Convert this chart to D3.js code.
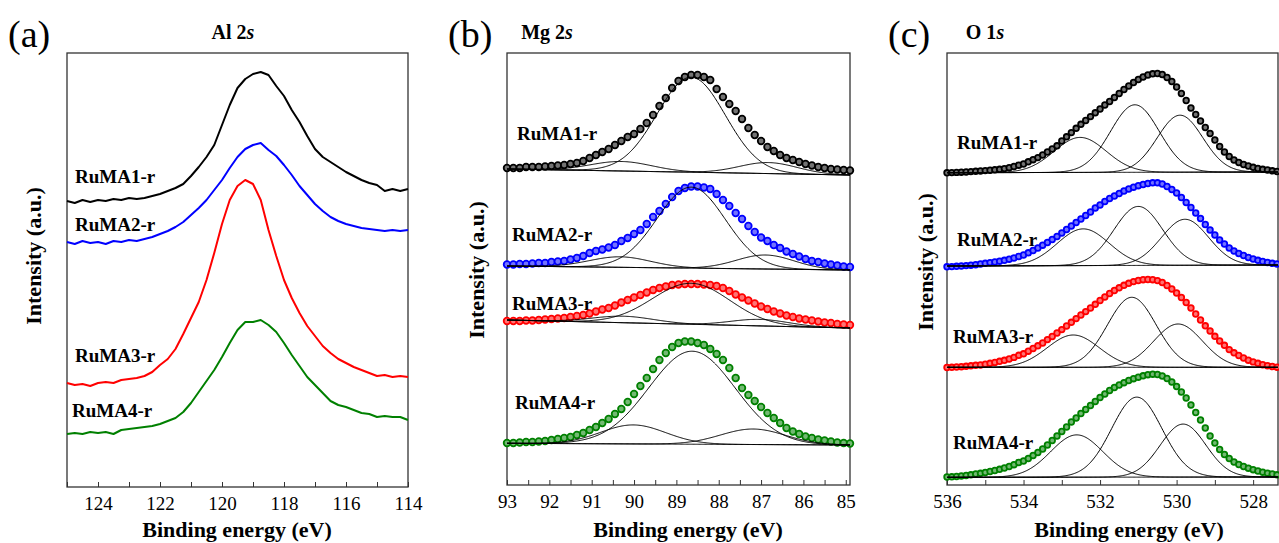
<!DOCTYPE html>
<html lang="en">
<head>
<meta charset="UTF-8">
<title>XPS Al 2s / Mg 2s / O 1s</title>
<script src="https://d3js.org/d3.v7.min.js"></script>
<style>
    body { margin: 0; background: #fff; }
    .frame { fill: none; stroke: #333; stroke-width: 1.3px; }
    .tick line { stroke: #333; stroke-width: 1px; }
    .comp { fill: none; stroke: #000; stroke-width: 1px; }
</style>
</head>
<body>
<svg id="canvas" width="1279" height="543"></svg>
<script>
// samples and their colours
const samples = ['RuMA1-r', 'RuMA2-r', 'RuMA3-r', 'RuMA4-r'];
const colors = ['#000000', '#0000ff', '#ff0000', '#008000'];

// (a) Al 2s, raw spectra, 125 -> 114 eV every 0.25 eV (intensity in a.u., offsets included)
const alEnergy = d3.range(125, 113.99, -0.25);
const alRuMA1 = [286,284,287,285,287,286,288,287,289,288,289,291,293,296,299,303,311,320,330,342,362,382,399,408,413,415,412,401,391,377,365,351,338,330,325,320,315,311,307,304,302,296,298,296,298];
const alRuMA2 = [245,243,246,244,245,243,246,245,247,246,248,250,253,256,260,265,272,279,287,297,307,319,330,338,342,344,337,331,322,312,301,292,283,276,270,266,263,261,259,258,257,256,257,256,257];
const alRuMA3 = [104,102,103,101,104,105,104,107,108,109,111,115,122,128,138,153,169,185,207,234,263,287,301,307,303,287,257,231,207,189,174,161,151,141,134,128,124,120,117,114,111,112,110,111,110];
const alRuMA4 = [53,54,53,55,54,55,53,57,58,59,60,61,63,66,69,75,84,95,106,117,130,144,157,165,165,167,162,155,144,132,121,110,102,94,86,82,80,77,74,73,70,71,70,70,67];

// (b) Mg 2s, measured points 93 -> 84.9 eV every 0.15 eV
const mgEnergy = d3.range(93, 84.89, -0.15);
const mgRuMA1 = [317,317,317,318,318,318,318.5,319,319.5,320,321,322,324,327,330,333,336,340,344,348,351,356,362,370,379,387,397,404,408,410,410,408,405,396,388,381,374,366,357,350,344,338,334,330,327,325,323,321,319.5,318,317,316,315.5,315,314.5];
const mgRuMA2 = [220.5,220.5,221,221,221.5,222,222,223,223.5,224,225.5,227,229,232,234,235.5,237.5,240,244,247,251,255,261,268,274,281,288,294,297,298.5,298.5,297.5,296,291,285,279,272,266,259,253,247.5,244,240,237,233.5,231,228.5,226,224,223,221.5,220.5,219.5,218.5,218];
const mgRuMA3 = [164,164,164,164.5,164.5,165,165.5,166,166.5,167,168,169,170,171.5,173.5,175.5,177,179.5,182.5,185,187.5,190,192.5,195,197,198.5,200,200.5,201,201,201,200.5,200,199,197,194,190.5,187.5,184.5,181.5,178.5,176,173.5,171.5,169.5,168,166.5,165.5,164.5,163.5,162.5,162,161,160.5,160];
const mgRuMA4 = [42,42,42.5,43,43,43.5,44,45,46,47,48,50,52,55,58,62,66,71,76,83,91,99,107,116,125,132,138,142,143.5,143.5,142,140,136,131,125,117,107,97,90,84,78,72,67,62,57,53.5,51,48.5,47,45.5,44.5,43.5,42.5,42,41.5];
// fitted baseline [left, right] and components [centre eV, fwhm eV, height]
const mgBase = [[316, 310], [219, 215], [165, 157], [41.7, 40]];
const mgPeaks = [
    [[90.3, 1.7, 9.5], [88.65, 1.9, 95], [86.83, 1.6, 11]],
    [[90.33, 1.7, 10.5], [88.65, 1.9, 81], [86.9, 1.6, 14]],
    [[90.26, 1.7, 6.5], [88.65, 2.15, 41], [87.03, 1.6, 6.5]],
    [[90.02, 1.8, 19], [88.63, 2.4, 93], [87.19, 1.8, 15.5]]
];

// (c) O 1s, measured points 536 -> 527.375 eV every 0.125 eV
const oEnergy = d3.range(536, 527.37, -0.125);
const oRuMA1 = [312.2,312.4,312.6,312.8,313,313.4,313.7,314,314.4,314.8,315.2,315.7,316.4,317.3,318.5,319.8,321,323.2,325.3,327.4,330,333,336,339.2,344,348.2,352.4,356.7,360.7,364.5,368.4,372.2,376,380,383.5,387.5,391.5,395.5,399,402.5,405.5,408,410,411.2,411.5,410.5,407.5,403.5,398,391.5,384.5,377,370.5,364,357.5,351.5,345,338.5,333,328.5,325,322.5,320.5,319,317.7,316.5,315.7,315,314.2,313.5];
const oRuMA2 = [218.2,218.4,218.7,219,219.4,219.8,220.3,221,221.7,222.4,223,223.8,224.7,225.8,227,228.5,230,232.2,234.5,237,239.8,242.5,245.5,248.5,252,255.5,259,262.5,266,269.5,273,277,280,283.5,286.5,289,291.5,294,296,297.8,299.3,300.5,301.5,302.2,302.2,301,298.5,295.5,292,287.5,282.5,277.5,272,266.5,260.5,255,250,245,241,237,234,231.5,229.5,227.5,226,224.7,223.5,222.5,221.7,221];
const oRuMA3 = [117.5,117.7,118,118.3,118.7,119.2,119.7,120,120.8,121.7,122.6,123.7,124.7,126,127.6,129.7,131.2,133.8,136.5,139.2,142,145.4,148.5,152,155.4,159,162.7,166.4,170,173.4,177,180.7,184.5,188,191.5,194.5,197.2,199.7,201.7,203.4,204.5,205.3,205.5,205.3,204.4,202.5,199.5,196,192,187.5,182.5,177,171,165,159.2,154,148.7,144,139.7,135.4,132.2,129.5,127,124.8,123.1,121.7,120.3,119.3,118.5,117.8];
const oRuMA4 = [8,8.2,8.5,9,9.5,10.2,11,11.7,12.5,13.5,14.5,15.7,17,18.5,20.3,22.5,24,26.5,29.5,32.5,36,40,44.5,49,53.5,58,63,67,71.5,75.5,79.5,83.5,87.5,91,94.5,97.5,100,102.3,104.5,106.3,107.8,109.2,110.3,110.8,110.5,109,106.5,103,98.5,93,87,80,72.5,65,57,49,42,35.5,30.5,26.5,23,20.5,18.5,16.8,15.3,14,12.8,11.8,11,10.2];
const oBase = [[312.3, 313], [219, 220], [117.7, 117.7], [7.7, 8]];
const oPeaks = [
    [[532.52, 1.6, 35], [531.09, 1.5, 67.5], [529.91, 1.4, 57]],
    [[532.44, 1.6, 36.7], [531.0, 1.5, 59], [529.78, 1.45, 46]],
    [[532.7, 1.6, 32.3], [531.17, 1.5, 70], [529.96, 1.5, 43.3]],
    [[532.61, 1.6, 42.3], [531.04, 1.55, 80], [529.83, 1.4, 53]]
];

// axis ticks
const alTicks = d3.range(125, 113.5, -1), alLabels = [124, 122, 120, 118, 116, 114];
const mgTicks = d3.range(93, 84.9, -0.5), mgLabels = [93, 92, 91, 90, 89, 88, 87, 86, 85];
const oTicks = d3.range(536, 527, -1), oLabels = [536, 534, 532, 530, 528];

const svg = d3.select('#canvas');
const serif = "'Liberation Serif'";

const panels = [
    {letter: '(a)', title: 'Al 2', x0: 67, x1: 408, y0: 53, y1: 487, dom: [125, 114], ymax: 434,
     ticks: alTicks, labels: alLabels, titleX: 233, axisX: 237, ylabX: 41, ylabY: 256, letterX: 8,
     sampPos: [[75, 183], [75, 231], [75, 362], [72, 417]]},
    {letter: '(b)', title: 'Mg 2', x0: 507, x1: 850, y0: 53, y1: 485, dom: [93, 84.9], ymax: 432,
     ticks: mgTicks, labels: mgLabels, titleX: 547, axisX: 688, ylabX: 484, ylabY: 270, letterX: 448,
     sampPos: [[517, 140], [512, 241], [512, 310], [515, 409]]},
    {letter: '(c)', title: 'O 1', x0: 947, x1: 1278, y0: 53, y1: 485, dom: [536, 527.35], ymax: 432,
     ticks: oTicks, labels: oLabels, titleX: 985, axisX: 1129, ylabX: 933, ylabY: 262, letterX: 888,
     sampPos: [[957, 149], [957, 246], [953, 343], [953, 449]]}
];

function gauss(E, p) {
    return p[2] * Math.exp(-4 * Math.LN2 * (E - p[0]) * (E - p[0]) / (p[1] * p[1]));
}

// text helper: font set inline on each element
function txt(g, s, size, bold) {
    return g.append('text').text(s)
        .style('font-family', serif)
        .style('font-size', size + 'px')
        .style('font-weight', bold ? 'bold' : 'normal')
        .attr('fill', '#000');
}

panels.forEach(function(P) {
    P.x = d3.scaleLinear().domain(P.dom).range([P.x0, P.x1]);
    P.y = d3.scaleLinear().domain([0, P.ymax]).range([P.y1, P.y0]);
    let g = svg.append('g');

    // ticks pointing inwards
    let tk = g.append('g').attr('transform', 'translate(0,' + P.y1 + ')')
        .call(d3.axisBottom(P.x).tickValues(P.ticks).tickSize(-5).tickFormat(''));
    tk.select('.domain').remove();
    let lb = g.append('g').attr('transform', 'translate(0,' + P.y1 + ')')
        .call(d3.axisBottom(P.x).tickValues(P.labels).tickSize(0).tickFormat(d3.format('d')));
    lb.select('.domain').remove();
    lb.selectAll('text').attr('dy', null).attr('y', 23)
        .style('font-family', serif).style('font-size', '19px').attr('fill', '#000');

    g.append('rect').attr('class', 'frame')
        .attr('x', P.x0).attr('y', P.y0).attr('width', P.x1 - P.x0).attr('height', P.y1 - P.y0);

    // titles and labels
    let t = txt(g, null, 20, true).attr('x', P.titleX).attr('y', 39).attr('text-anchor', 'middle');
    t.append('tspan').text(P.title);
    t.append('tspan').style('font-style', 'italic').text('s');
    txt(g, P.letter, 38, false).attr('x', P.letterX).attr('y', 47);
    txt(g, 'Binding energy (eV)', 22, true).attr('x', P.axisX).attr('y', 537).attr('text-anchor', 'middle');
    txt(g, 'Intensity (a.u.)', 22, true).attr('text-anchor', 'middle')
        .attr('transform', 'translate(' + P.ylabX + ',' + P.ylabY + ') rotate(-90)');
    samples.forEach(function(s, i) {
        txt(g, s, 19, true).attr('x', P.sampPos[i][0]).attr('y', P.sampPos[i][1]);
    });
    P.g = g;
});

// (a) plain lines
const A = panels[0];
[alRuMA1, alRuMA2, alRuMA3, alRuMA4].forEach(function(vals, i) {
    A.g.append('path')
        .datum(vals)
        .attr('fill', 'none')
        .attr('stroke', colors[i])
        .attr('stroke-width', 2)
        .attr('stroke-linejoin', 'round')
        .attr('d', d3.line().x((d, j) => A.x(alEnergy[j])).y(d => A.y(d)));
});

// (b), (c) points + fitted components
function drawFit(P, energy, series, base, peaks, r) {
    const e0 = P.dom[0], e1 = P.dom[1];
    const fine = d3.range(0, 401).map(i => e0 + (e1 - e0) * i / 400);
    series.forEach(function(vals, i) {
        const baseAt = E => base[i][0] + (base[i][1] - base[i][0]) * (e0 - E) / (e0 - e1);
        let grp = P.g.append('g');
        grp.selectAll('circle')
            .data(vals)
            .join('circle')
            .attr('cx', (d, j) => P.x(energy[j]))
            .attr('cy', d => P.y(d))
            .attr('r', r)
            .attr('fill', d3.interpolateRgb(colors[i], '#ffffff')(0.45))
            .attr('stroke', colors[i])
            .attr('stroke-width', 1.8);
        grp.append('path').attr('class', 'comp').datum(fine)
            .attr('d', d3.line().x(E => P.x(E)).y(E => P.y(baseAt(E))));
        peaks[i].forEach(function(p) {
            grp.append('path').attr('class', 'comp').datum(fine)
                .attr('d', d3.line().x(E => P.x(E)).y(E => P.y(baseAt(E) + gauss(E, p))));
        });
    });
}

drawFit(panels[1], mgEnergy, [mgRuMA1, mgRuMA2, mgRuMA3, mgRuMA4], mgBase, mgPeaks, 3.3);
drawFit(panels[2], oEnergy, [oRuMA1, oRuMA2, oRuMA3, oRuMA4], oBase, oPeaks, 2.8);
</script>
</body>
</html>
